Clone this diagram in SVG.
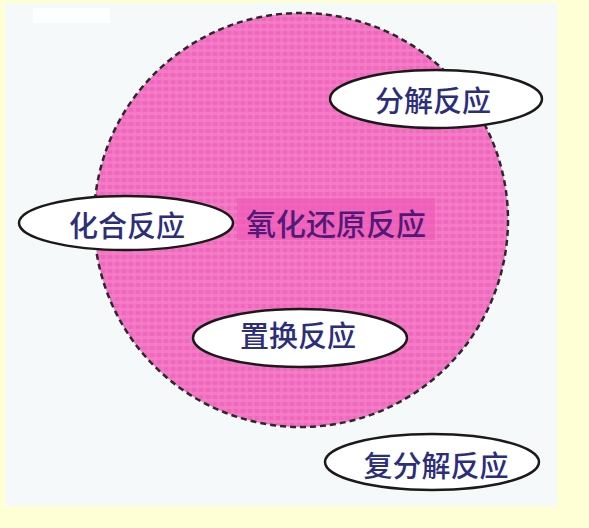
<svg xmlns="http://www.w3.org/2000/svg" width="589" height="528" viewBox="0 0 589 528">
  <style>
    .lbl { font-family: "Noto Sans CJK SC", "Noto Sans", sans-serif; font-size: 29px; font-weight: 500; fill: #2c2e7c; text-anchor: middle; dominant-baseline: central; }
    .main { font-family: "Noto Sans CJK SC", "Noto Sans", sans-serif; font-size: 30px; font-weight: 500; fill: #521a78; text-anchor: middle; dominant-baseline: central; }
    .oval { fill: #ffffff; stroke: #1a1a1a; stroke-width: 2.5; }
  </style>
  <defs>
    <pattern id="grid" width="7" height="7" patternUnits="userSpaceOnUse">
      <rect width="7" height="7" fill="#f068be"/>
      <rect width="7" height="3" fill="#f480c8" opacity="0.8"/>
      <rect width="3" height="7" fill="#f480c8" opacity="0.5"/>
    </pattern>
  </defs>
  <rect x="0" y="0" width="589" height="528" fill="#ffffd6"/>
  <rect x="5" y="3" width="552" height="503" fill="#f5f9fa"/>
  <rect x="33" y="8" width="77" height="15" fill="#fdfefe"/>

  <g id="redox">
    <circle cx="301" cy="220" r="207" fill="url(#grid)" stroke="#2a2a2a" stroke-width="2.5" stroke-dasharray="6 4"/>
    <rect x="237" y="198" width="198" height="42" fill="#ee58b4" opacity="0.6"/>
    <text class="main" x="336" y="222">氧化还原反应</text>
  </g>

  <g id="decomposition">
    <ellipse class="oval" cx="436" cy="99" rx="106" ry="29"/>
    <text class="lbl" x="433" y="99">分解反应</text>
  </g>

  <g id="combination">
    <ellipse class="oval" cx="126" cy="223" rx="107" ry="27"/>
    <text class="lbl" x="127" y="224">化合反应</text>
  </g>

  <g id="displacement">
    <ellipse class="oval" cx="300" cy="338" rx="107" ry="29"/>
    <text class="lbl" x="298" y="334">置换反应</text>
  </g>

  <g id="double-decomposition">
    <ellipse class="oval" cx="432" cy="462" rx="107" ry="28"/>
    <text class="lbl" x="436" y="464">复分解反应</text>
  </g>

  <g id="connectors"></g>
</svg>
